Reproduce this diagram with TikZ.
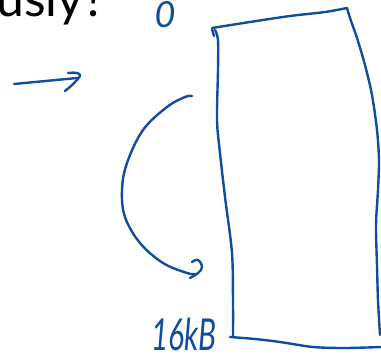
\documentclass[tikz,border=0pt]{standalone}
\usepackage{fontspec}
\setmainfont{Lato}
\definecolor{ink}{RGB}{16,78,155}
\tikzset{
  pen/.style={draw=ink, line width=2.4pt, line cap=round, line join=round},
  handtext/.style={text=ink, inner sep=0pt, font=\itshape\fontsize{#1}{#1}\selectfont},
}
\begin{document}
\begin{tikzpicture}[x=1pt,y=-1pt]
\useasboundingbox (0,0) rectangle (381,360);
\clip (0,0) rectangle (381,360);

% heading fragment, running off the top edge
\node[anchor=base east, inner sep=0pt, font=\fontsize{50}{50}\selectfont] (heading) at (106,16) {ously?};

% labels of the memory block
\node[handtext=36, anchor=base] (zero) at (165,27) {0};
\node[handtext=44, anchor=base] (size) at (184,350) {\scalebox{0.68}[1]{16kB}};

% straight arrow
\coordinate (arrowtail) at (14,84);
\coordinate (arrowtip) at (77,78);
\draw[pen] (arrowtail) -- (arrowtip);
\draw[pen] (68,73) .. controls (75,72) and (81,73) .. (80,76) .. controls (76,82) and (70,87) .. (65,91);

% curved arrow along the block
\coordinate (curvestart) at (192,96);
\coordinate (curveend) at (195,274);
\draw[pen] plot[smooth, tension=0.6] coordinates {(curvestart) (185,97) (167,107) (143,130) (127,163) (122,190) (125,217) (140,243) (163,263) (187,273) (curveend)};
\draw[pen] plot[smooth, tension=0.7] coordinates {(192,262) (198,260) (202,267) (198,273) (190,278)};

% memory block outline
\coordinate (tl) at (212,28);
\coordinate (tr) at (347,8);
\coordinate (bl) at (233,336);
\coordinate (br) at (381,347);
\draw[pen] plot[smooth, tension=0.5] coordinates {(tl) (250,22) (290,16) (325,12) (tr)};
\draw[pen] (212,29) -- (214,36);
\draw[pen] plot[smooth, tension=0.5] coordinates {(215,30) (218,40) (218,70) (217,120) (220,153) (225,197) (232,253) (233,303) (bl)};
\draw[pen] plot[smooth, tension=0.5] coordinates {(tr) (350,18) (357,38) (365,65) (372,95) (377,130) (379,160) (378,190) (376,225) (377,265) (378,300) (380,335)};
\draw[pen] plot[smooth, tension=0.5] coordinates {(230,337) (255,339) (280,342) (313,347) (345,348) (br)};
\end{tikzpicture}
\end{document}
